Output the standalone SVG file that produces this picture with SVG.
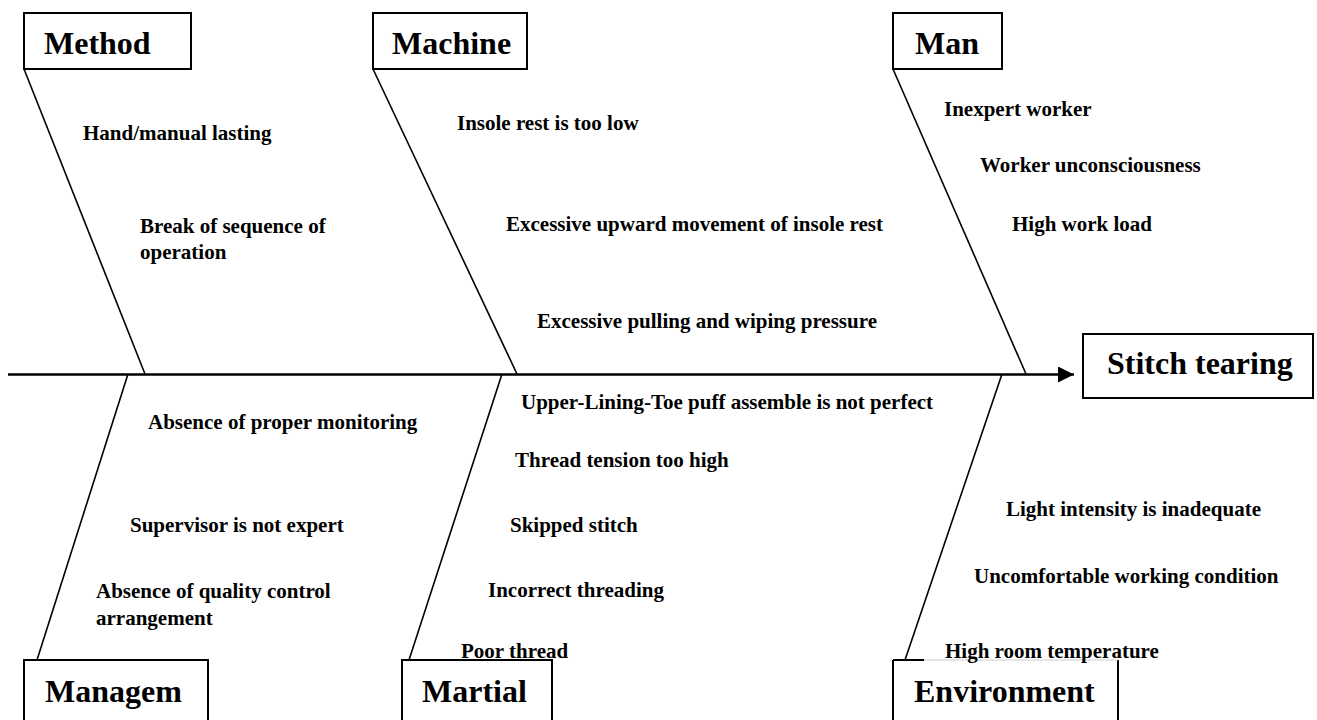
<svg xmlns="http://www.w3.org/2000/svg" width="1317" height="720" viewBox="0 0 1317 720">
<style>
.box{fill:#fff;stroke:#000;stroke-width:2}
.lbl{font-family:"Liberation Serif","Times New Roman",serif;font-weight:bold;font-size:32px;fill:#000}
.t{font-family:"Liberation Serif","Times New Roman",serif;font-weight:bold;font-size:21px;fill:#000}
.br{stroke:#000;stroke-width:1.6;fill:none}
</style>
<defs>
<marker id="arr" viewBox="0 0 10 10" refX="10" refY="5" markerWidth="16" markerHeight="16" markerUnits="userSpaceOnUse" orient="auto">
<path d="M0,0 L10,5 L0,10 Z" fill="#000"/>
</marker>
</defs>
<rect width="1317" height="720" fill="#fff"/>
<g id="connectors">
<line x1="8" y1="374.5" x2="1074" y2="374.5" stroke="#000" stroke-width="2.5" marker-end="url(#arr)"/>
<line class="br" x1="24" y1="69" x2="145" y2="374"/>
<line class="br" x1="373" y1="69" x2="517" y2="374"/>
<line class="br" x1="893" y1="69" x2="1026" y2="374"/>
<line class="br" x1="128" y1="374" x2="37" y2="660"/>
<line class="br" x1="502" y1="374" x2="409" y2="660"/>
<line class="br" x1="1002" y1="374" x2="905" y2="660"/>
</g>
<g id="method"><rect class="box" x="24" y="13" width="167" height="56"/><text class="lbl" x="44" y="54">Method</text></g>
<g id="machine"><rect class="box" x="373" y="13" width="154" height="56"/><text class="lbl" x="392" y="54">Machine</text></g>
<g id="man"><rect class="box" x="893" y="13" width="109" height="56"/><text class="lbl" x="915" y="54">Man</text></g>
<g id="effect"><rect class="box" x="1083" y="334" width="230" height="64"/><text class="lbl" x="1107" y="374">Stitch tearing</text></g>
<g id="management"><rect class="box" x="24" y="660" width="184" height="70"/><text class="lbl" x="45" y="702">Managem</text></g>
<g id="martial"><rect class="box" x="402" y="660" width="150" height="70"/><text class="lbl" x="422" y="702">Martial</text></g>
<g id="environment"><path d="M893,730 V660 M1118,660 V730" stroke="#000" stroke-width="2" fill="none"/><line x1="924" y1="660" x2="1118" y2="660" stroke="#ccc" stroke-width="1"/><line x1="893" y1="660" x2="924" y2="660" stroke="#000" stroke-width="2"/><text class="lbl" x="914" y="702">Environment</text></g>
<g id="causes">
<text class="t" x="83" y="140">Hand/manual lasting</text>
<text class="t" x="140" y="233">Break of sequence of</text>
<text class="t" x="140" y="259">operation</text>
<text class="t" x="457" y="130">Insole rest is too low</text>
<text class="t" x="506" y="231">Excessive upward movement of insole rest</text>
<text class="t" x="537" y="328">Excessive pulling and wiping pressure</text>
<text class="t" x="944" y="116">Inexpert worker</text>
<text class="t" x="980" y="172">Worker unconsciousness</text>
<text class="t" x="1012" y="231">High work load</text>
<text class="t" x="148" y="429">Absence of proper monitoring</text>
<text class="t" x="130" y="532">Supervisor is not expert</text>
<text class="t" x="96" y="598">Absence of quality control</text>
<text class="t" x="96" y="625">arrangement</text>
<text class="t" x="521" y="409">Upper-Lining-Toe puff assemble is not perfect</text>
<text class="t" x="515" y="467">Thread tension too high</text>
<text class="t" x="510" y="532">Skipped stitch</text>
<text class="t" x="488" y="597">Incorrect threading</text>
<text class="t" x="461" y="658">Poor thread</text>
<text class="t" x="1006" y="516">Light intensity is inadequate</text>
<text class="t" x="974" y="583">Uncomfortable working condition</text>
<text class="t" x="945" y="658">High room temperature</text>
</g>
</svg>
